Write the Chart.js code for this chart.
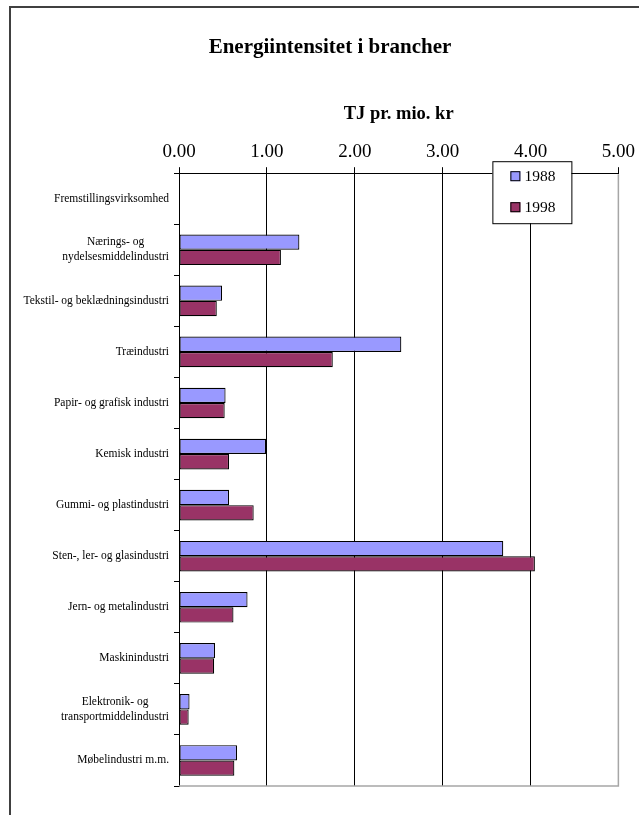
<!DOCTYPE html>
<html>
<head>
    <title>Energiintensitet i brancher</title>
    <style type="text/css">
        html, body {
            margin: 0;
            padding: 0;
            overflow: hidden;
            background: #ffffff;
        }
        .wrap {
            position: relative;
            width: 639px;
            height: 815px;
            overflow: hidden;
        }
        .frame {
            position: absolute;
            left: 9px;
            top: 6px;
            width: 800px;
            height: 1000px;
            border: 2px solid #404040;
        }
        #Chart {
            position: absolute;
            left: 0;
            top: 0;
        }
    </style>
    <script src="https://cdnjs.cloudflare.com/ajax/libs/Chart.js/4.4.1/chart.umd.min.js"></script>
</head>
<body>
    <div class="wrap">
        <div class="frame"></div>
        <canvas id="Chart" width="639" height="815"></canvas>
    </div>
    <script>
        // Brancher (top to bottom) and energy intensity, TJ per mio. kr
        var categories = [
            'Fremstillingsvirksomhed',
            ['Nærings- og', 'nydelsesmiddelindustri'],
            'Tekstil- og beklædningsindustri',
            'Træindustri',
            'Papir- og grafisk industri',
            'Kemisk industri',
            'Gummi- og plastindustri',
            'Sten-, ler- og glasindustri',
            'Jern- og metalindustri',
            'Maskinindustri',
            ['Elektronik- og', 'transportmiddelindustri'],
            'Møbelindustri m.m.'
        ];
        var values1988 = [null, 1.37, 0.49, 2.53, 0.53, 0.99, 0.57, 3.69, 0.78, 0.41, 0.12, 0.66];
        var values1998 = [null, 1.16, 0.43, 1.75, 0.52, 0.57, 0.85, 4.05, 0.62, 0.40, 0.11, 0.63];
        var seriesNames = ['1988', '1998'];
        var xMin = 0, xMax = 5, xStep = 1;

        var serif = '"Liberation Serif", "Times New Roman", serif';

        // Category labels: single lines right-aligned, wrapped labels centred as a block
        var categoryLabels = {
            id: 'categoryLabels',
            afterDraw: function(chart) {
                var s = chart.scales.y;
                var ctx = chart.ctx;
                ctx.save();
                ctx.font = '11.5px ' + serif;
                ctx.fillStyle = '#000';
                ctx.textBaseline = 'middle';
                ctx.textAlign = 'center';
                var right = s.right - 10;
                categories.forEach(function(lab, i) {
                    var y = s.getPixelForTick(i);
                    var lines = Array.isArray(lab) ? lab : [lab];
                    var w = Math.max.apply(null, lines.map(function(l) { return ctx.measureText(l).width; }));
                    lines.forEach(function(l, j) {
                        var ly = y + (j - (lines.length - 1) / 2) * 15;
                        ctx.fillText(l, right - w / 2, ly);
                    });
                });
                ctx.restore();
            }
        };

        // Grey plot-area edge on the right and bottom
        var plotEdge = {
            id: 'plotEdge',
            afterDatasetsDraw: function(chart) {
                var a = chart.chartArea;
                var ctx = chart.ctx;
                ctx.save();
                ctx.strokeStyle = '#a6a6a6';
                ctx.lineWidth = 1.5;
                ctx.beginPath();
                ctx.moveTo(a.right, a.top + 1);
                ctx.lineTo(a.right, a.bottom);
                ctx.lineTo(a.left, a.bottom);
                ctx.stroke();
                ctx.restore();
            }
        };

        // Boxed legend sitting over the top-right of the plot
        var boxLegend = {
            id: 'boxLegend',
            afterDraw: function(chart) {
                var a = chart.chartArea;
                var ctx = chart.ctx;
                var x0 = a.right - 126, y0 = a.top - 12, w = 79, h = 62;
                ctx.save();
                ctx.fillStyle = '#fff';
                ctx.fillRect(x0, y0, w, h);
                ctx.strokeStyle = '#000';
                ctx.lineWidth = 1;
                ctx.strokeRect(x0 + 0.5, y0 + 0.5, w, h);
                ctx.font = '15.5px ' + serif;
                ctx.textBaseline = 'middle';
                ctx.textAlign = 'left';
                chart.data.datasets.forEach(function(ds, i) {
                    var cy = y0 + 15 + i * 31;
                    ctx.fillStyle = ds.backgroundColor;
                    ctx.fillRect(x0 + 18, cy - 5, 10, 10);
                    ctx.strokeStyle = '#000';
                    ctx.strokeRect(x0 + 18.5, cy - 4.5, 9, 9);
                    ctx.fillStyle = '#000';
                    ctx.fillText(ds.label, x0 + 32, cy + 1);
                });
                ctx.restore();
            }
        };

        var ctx = document.getElementById('Chart').getContext('2d');
        var chart = new Chart(ctx, {
            type: 'bar',
            data: {
                labels: categories,
                datasets: [{
                    label: seriesNames[0],
                    data: values1988,
                    backgroundColor: '#9999ff',
                    borderColor: '#000',
                    borderWidth: 1.2,
                    borderSkipped: false
                }, {
                    label: seriesNames[1],
                    data: values1998,
                    backgroundColor: '#993366',
                    borderColor: '#000',
                    borderWidth: 1.2,
                    borderSkipped: false
                }]
            },
            options: {
                responsive: false,
                animation: false,
                indexAxis: 'y',
                categoryPercentage: 0.6,
                barPercentage: 1.0,
                layout: {
                    padding: { left: 21, right: 0, top: 0, bottom: 29 }
                },
                plugins: {
                    legend: { display: false },
                    tooltip: { enabled: false },
                    title: {
                        display: true,
                        text: 'Energiintensitet i brancher',
                        color: '#000',
                        font: { family: serif, size: 21, weight: 'bold' },
                        padding: { top: 35, bottom: 43 }
                    }
                },
                scales: {
                    x: {
                        position: 'top',
                        min: xMin,
                        max: xMax,
                        ticks: {
                            stepSize: xStep,
                            color: '#000',
                            font: { family: serif, size: 19 },
                            padding: 4,
                            callback: function(v) { return Number(v).toFixed(2); }
                        },
                        grid: {
                            color: function(c) { return c.tick && c.tick.value === xMax ? 'rgba(0,0,0,0)' : '#000'; },
                            tickColor: '#000',
                            tickLength: 6,
                            lineWidth: 1
                        },
                        border: { color: '#000', width: 1 },
                        title: {
                            display: true,
                            text: 'TJ pr. mio. kr',
                            color: '#000',
                            font: { family: serif, size: 18.5, weight: 'bold' },
                            padding: { top: 0, bottom: 11 }
                        }
                    },
                    y: {
                        ticks: { display: false },
                        grid: {
                            drawOnChartArea: false,
                            color: '#000',
                            tickLength: 5
                        },
                        border: { color: '#000', width: 1 },
                        afterFit: function(s) { s.width = 158; }
                    }
                }
            },
            plugins: [plotEdge, categoryLabels, boxLegend]
        });
    </script>
</body>
</html>
